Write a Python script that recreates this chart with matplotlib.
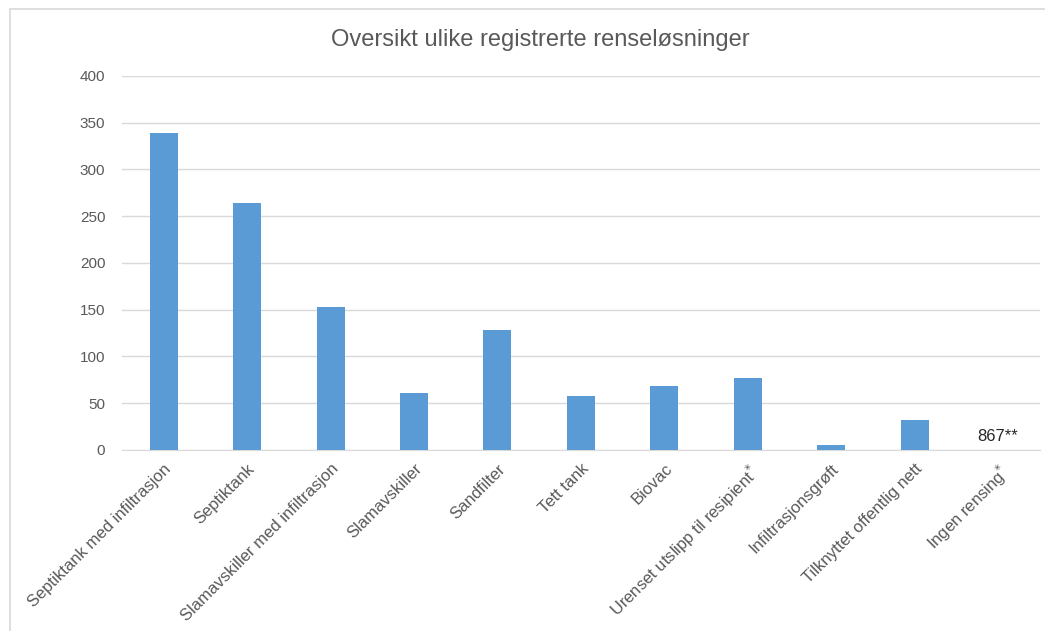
import matplotlib.pyplot as plt
from matplotlib.patches import Rectangle
import numpy as np

plt.rcParams['font.family'] = ['Liberation Sans', 'DejaVu Sans']

# Data
categories = ['Septiktank med infiltrasjon', 'Septiktank', 'Slamavskiller med infiltrasjon',
              'Slamavskiller', 'Sandfilter', 'Tett tank', 'Biovac',
              'Urenset utslipp til resipient$^{*}$', 'Infiltrasjonsgrøft',
              'Tilknyttet offentlig nett', 'Ingen rensing$^{*}$']
values = [339, 264, 153, 61, 128, 58, 68, 77, 5, 32, 0]
ingen_rensing_label = '867**'

fig = plt.figure(figsize=(10.45, 6.31), dpi=100)
ax = fig.add_axes([0.1167, 0.2869, 0.8783, 0.5927])

# Chart frame
fig.patches.append(Rectangle((10 / 1045, -0.1), 1.2, 1 - 9 / 631 + 0.1, transform=fig.transFigure,
                             fill=False, edgecolor='#d9d9d9', linewidth=1.2))

x = np.arange(len(categories))
ax.bar(x, values, width=0.335, color='#5b9bd5', zorder=3)

ax.set_xlim(-0.5, len(categories) - 0.5)
ax.set_ylim(0, 400)
ax.set_yticks(range(0, 401, 50))
ax.grid(axis='y', color='#d9d9d9', linewidth=1.0, zorder=0)
for s in ['top', 'right', 'left']:
    ax.spines[s].set_visible(False)
ax.spines['bottom'].set_color('#d9d9d9')
ax.tick_params(axis='both', length=0, colors='#595959')
ax.tick_params(axis='y', pad=12, labelsize=11)

ax.set_xticks(x)
ax.set_xticklabels(categories, rotation=45, ha='right', rotation_mode='anchor', fontsize=12)
ax.tick_params(axis='x', pad=8)

ax.text(x[-1], 14, ingen_rensing_label, ha='center', va='center', fontsize=12, color='#262626')

fig.text(0.517, 0.937, 'Oversikt ulike registrerte renseløsninger', ha='center', va='center',
         fontsize=17, color='#595959')

fig.savefig('out.png', dpi=100)
